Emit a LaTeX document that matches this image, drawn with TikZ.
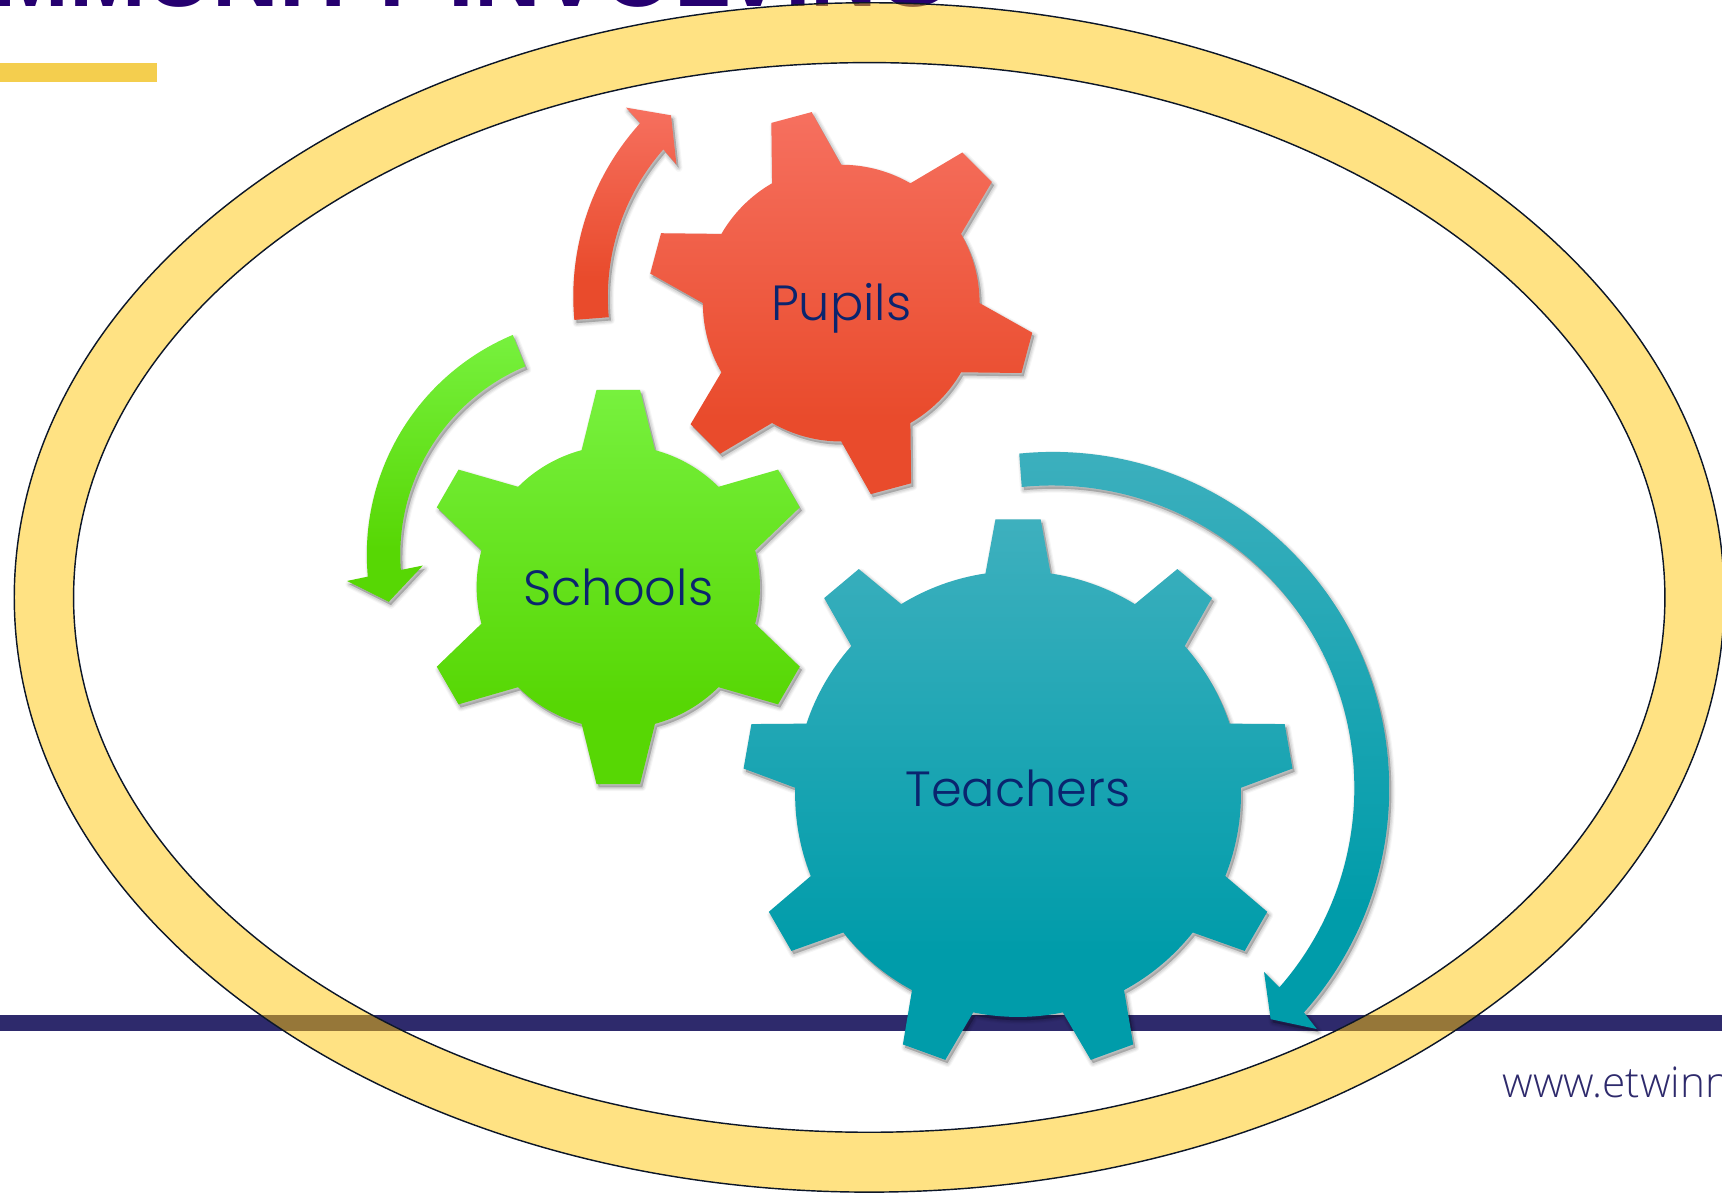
\documentclass[tikz,border=0pt]{standalone}
\usepackage{fontspec}
\setmainfont{Liberation Sans}
\newfontfamily\lblfont{Poppins}[UprightFont=* Light]
\newfontfamily\webfont{Open Sans}[UprightFont=* Light]
\definecolor{navy}{RGB}{46,42,108}
\definecolor{titlec}{RGB}{38,0,112}
\definecolor{goldbar}{RGB}{244,206,78}
\definecolor{ringc}{RGB}{255,197,7}
\definecolor{ringline}{RGB}{12,22,40}
\definecolor{lblc}{RGB}{10,36,110}
\definecolor{redT}{RGB}{246,112,95}
\definecolor{redB}{RGB}{233,75,44}
\definecolor{greenT}{RGB}{119,241,62}
\definecolor{greenB}{RGB}{87,215,4}
\definecolor{tealT}{RGB}{62,176,190}
\definecolor{tealB}{RGB}{0,156,170}
\pgfdeclareverticalshading{redshade}{100bp}{color(0bp)=(redB); color(35bp)=(redB); color(75bp)=(redT); color(100bp)=(redT)}
\pgfdeclareverticalshading{greenshade}{100bp}{color(0bp)=(greenB); color(35bp)=(greenB); color(75bp)=(greenT); color(100bp)=(greenT)}
\pgfdeclareverticalshading{tealshade}{100bp}{color(0bp)=(tealB); color(35bp)=(tealB); color(75bp)=(tealT); color(100bp)=(tealT)}
% gear outline: centre at the scope origin; #1 teeth, #2 phase, #3 root R, #4 tip T, #5 root half angle, #6 tip half angle
\newcommand{\gearoutline}[6]{
  \pgfmathsetmacro{\gstep}{360/#1}
  \foreach \gi in {1,...,#1}{
    \pgfmathsetmacro{\ga}{#2-(\gi-1)*\gstep}
    \pgfmathsetmacro{\gbase}{\ga+#5}\pgfmathsetmacro{\gtipa}{\ga+#6}
    \pgfmathsetmacro{\gtipb}{\ga-#6}\pgfmathsetmacro{\gbaseb}{\ga-#5}
    \pgfmathsetmacro{\gnext}{\ga-\gstep+#5}
    \xdef\gearacc{\gearacc (\gbase:#3) -- (\gtipa:#4) -- (\gtipb:#4) -- (\gbaseb:#3) arc[start angle=\gbaseb,end angle=\gnext,radius=#3] -- }
  }
}
% soft shadow: stacked translucent strokes of the same outline
\tikzset{
  softshadow/.style={
    preaction={draw=black,fill=black,opacity=.035,line width=7pt,line join=round,transform canvas={shift={(2pt,-3pt)}}},
    preaction={draw=black,fill=black,opacity=.05,line width=5pt,line join=round,transform canvas={shift={(2pt,-3pt)}}},
    preaction={draw=black,fill=black,opacity=.07,line width=3pt,line join=round,transform canvas={shift={(2pt,-3pt)}}},
    preaction={draw=none,fill=black,opacity=.09,transform canvas={shift={(2pt,-3pt)}}}},
  redfill/.style={shading=redshade,softshadow},
  greenfill/.style={shading=greenshade,softshadow},
  tealfill/.style={shading=tealshade,softshadow},
  geartext/.style={font=\lblfont\fontsize{45}{50}\selectfont,text=lblc,inner sep=0pt},
  ringstyle/.style={draw=ringline,line width=1.3pt,fill=ringc,fill opacity=.5,even odd rule}
}
\begin{document}
\begin{tikzpicture}[x=1pt,y=1pt]
\useasboundingbox (0,0) rectangle (1568,-1086.27);
\clip (0,0) rectangle (1568,-1086.27);
% title and bars
\node[font=\bfseries\fontsize{84}{88}\selectfont,text=titlec,anchor=base west,inner sep=0pt] (title) at (-133,-5.5) {COMMUNITY INVOLVING};
\fill[goldbar] (0,-57) rectangle (143,-75);
\fill[navy] (0,-924) rectangle (1568,-939);
\node[font=\webfont\fontsize{38.5}{42}\selectfont,text=navy,anchor=base west,inner sep=0pt] (web) at (1368,-999) {www.etwinning.net};
% ring
\path[ringstyle] (791.5,-544) ellipse[x radius=778.5,y radius=541.5] (791.5,-544) ellipse[x radius=724.5,y radius=487];
% Pupils
\begin{scope}[shift={(766,-276)}]
  \gdef\gearacc{}\gearoutline{6}{105}{126}{176}{15}{6.2}
  \path[redfill] \gearacc cycle;
  \node[geartext] (pupils) at (0,-5) {Pupils};
\end{scope}
\begin{scope}[shift={(757,-270)}]
  \path[redfill] (185.2:235) arc[start angle=185.2,end angle=137.8,radius=235]
    -- (-187,172) -- (-146,165) -- (-141,120) -- (-153,134)
    arc[start angle=138.8,end angle=185.2,radius=204] -- cycle;
\end{scope}
% Schools
\begin{scope}[shift={(563,-534.5)}]
  \gdef\gearacc{}\gearoutline{6}{90}{129}{180.5}{15}{6.3}
  \path[greenfill] \gearacc cycle;
  \node[geartext] (schools) at (0,0) {Schools};
\end{scope}
\begin{scope}[shift={(551,-505)}]
  \path[greenfill] (112.8:217) arc[start angle=112.8,end angle=185.3,radius=217]
    -- (-235,-24) -- (-197,-43) -- (-166,-10) -- (-186,-14)
    arc[start angle=184.3,end angle=112.8,radius=186] -- cycle;
\end{scope}
% Teachers
\begin{scope}[shift={(927,-723)}]
  \gdef\gearacc{}\gearoutline{9}{90}{203}{251}{8.4}{4.7}
  \path[tealfill] \gearacc cycle;
  \node[geartext] (teachers) at (0,5) {Teachers};
\end{scope}
\begin{scope}[shift={(958.5,-718)}]
  \path[tealfill] (95.7:306.5) arc[start angle=95.7,end angle=-41.7,radius=306.5]
    -- (240.5,-219) -- (198.5,-210) -- (192.5,-167) -- (206.5,-181)
    arc[start angle=-41.2,end angle=95.7,radius=275.5] -- cycle;
\end{scope}
\end{tikzpicture}
\end{document}
